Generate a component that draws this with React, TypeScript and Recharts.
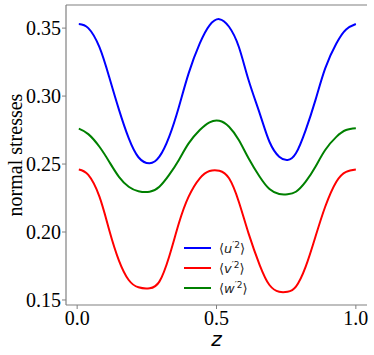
import React from 'react';
import { LineChart, Line, XAxis, YAxis, ReferenceLine } from 'recharts';

const zValues = [
  0.006, 0.04, 0.08, 0.115, 0.15, 0.185, 0.22, 0.26, 0.295, 0.33, 0.365, 0.4, 0.44, 0.475, 0.51,
  0.545, 0.58, 0.615, 0.655, 0.69, 0.725, 0.755, 0.785, 0.82, 0.855, 0.89, 0.93, 0.965, 1.0,
];
const uu = [
  0.353, 0.35, 0.336, 0.314, 0.29, 0.269, 0.255, 0.2505, 0.2554, 0.27, 0.292, 0.3167, 0.3387, 0.352, 0.3566,
  0.351, 0.3363, 0.3118, 0.2873, 0.2664, 0.2554, 0.253, 0.2579, 0.275, 0.297, 0.3204, 0.3387, 0.349, 0.353,
];
const vv = [
  0.246, 0.242, 0.226, 0.2015, 0.179, 0.1647, 0.1593, 0.1586, 0.1635, 0.1818, 0.2064, 0.226, 0.2395, 0.2449, 0.2451,
  0.2395, 0.2223, 0.199, 0.1757, 0.161, 0.156, 0.156, 0.1598, 0.1745, 0.1965, 0.2186, 0.237, 0.2443, 0.246,
];
const ww = [
  0.276, 0.272, 0.2627, 0.2517, 0.2406, 0.2333, 0.23, 0.2296, 0.2333, 0.242, 0.253, 0.2652, 0.275, 0.2807, 0.2818,
  0.2774, 0.2676, 0.2542, 0.2406, 0.2316, 0.2279, 0.2277, 0.2296, 0.237, 0.248, 0.2603, 0.27, 0.275, 0.2763,
];
const xTicks = [0, 0.5, 1];
const yTicks = [0.15, 0.2, 0.25, 0.3, 0.35];
const yDomain = [0.1463, 0.367];

const series = [
  { key: 'uu', letter: 'u', color: '#0000ff' },
  { key: 'vv', letter: 'v', color: '#ff0000' },
  { key: 'ww', letter: 'w', color: '#008000' },
];

const data = zValues.map((z, i) => ({ z, uu: uu[i], vv: vv[i], ww: ww[i] }));

const frame = '#808080';
const serif = '"Liberation Serif", "Times New Roman", serif';

function TickText(props: any) {
  const { x, y, payload, textAnchor, digits, dy } = props;
  return (
    <text x={x} y={y} dy={dy} textAnchor={textAnchor} fontSize={20} fontFamily={serif} fill="#000">
      {Number(payload.value).toFixed(digits)}
    </text>
  );
}

function StressLegend() {
  return (
    <div
      style={{
        position: 'absolute',
        left: 184,
        top: 238,
        fontFamily: '"DejaVu Sans", sans-serif',
        fontSize: 13,
        color: '#222',
      }}
    >
      {series.map((s) => (
        <div key={s.key} style={{ display: 'flex', alignItems: 'center', height: 20 }}>
          <svg width={27} height={4} style={{ marginRight: 8 }}>
            <line x1={0} y1={2} x2={27} y2={2} stroke={s.color} strokeWidth={2} />
          </svg>
          <span>
            ⟨<i>{s.letter}</i>
            <sup style={{ fontSize: 9, lineHeight: 0 }}>′2</sup>⟩
          </span>
        </div>
      ))}
    </div>
  );
}

function YLabel(props: any) {
  const vb = props.viewBox;
  const x = vb.x + 21.5;
  const y = vb.y + vb.height / 2;
  return (
    <text x={x} y={y} transform={`rotate(-90, ${x}, ${y})`} textAnchor="middle" fontSize={20} fontFamily={serif} fill="#000">
      normal stresses
    </text>
  );
}

function XLabel(props: any) {
  const vb = props.viewBox;
  return (
    <text x={vb.x + vb.width / 2} y={346} textAnchor="middle" fontSize={20} fontStyle="italic" fontFamily='"DejaVu Sans", sans-serif' fill="#000">
      z
    </text>
  );
}

export default function App() {
  return (
    <div style={{ position: 'absolute', left: 0, top: 0, width: 374, height: 355, background: '#fff' }}>
      <LineChart width={374} height={355} data={data} margin={{ top: 5, right: 7, bottom: 0, left: 0 }}>
        <XAxis
          dataKey="z"
          type="number"
          domain={[-0.04, 1.04]}
          ticks={xTicks}
          tick={<TickText digits={1} dy={14} />}
          tickSize={4}
          tickMargin={2}
          height={50}
          axisLine={{ stroke: frame, strokeWidth: 1.2 }}
          tickLine={{ stroke: frame }}
          label={<XLabel />}
        />
        <YAxis
          type="number"
          domain={yDomain}
          ticks={yTicks}
          tick={<TickText digits={2} dy={7} />}
          tickSize={4}
          tickMargin={1}
          width={66}
          allowDataOverflow
          axisLine={{ stroke: frame, strokeWidth: 1.2 }}
          tickLine={{ stroke: frame }}
          label={<YLabel />}
        />
        <YAxis yAxisId="right" orientation="right" width={0} tick={false} tickLine={false} axisLine={{ stroke: frame, strokeWidth: 1.2 }} />
        <ReferenceLine y={yDomain[1]} stroke={frame} strokeWidth={1.2} />
        {series.map((s) => (
          <Line key={s.key} dataKey={s.key} type="natural" stroke={s.color} strokeWidth={2} dot={false} isAnimationActive={false} />
        ))}
      </LineChart>
      <StressLegend />
    </div>
  );
}
